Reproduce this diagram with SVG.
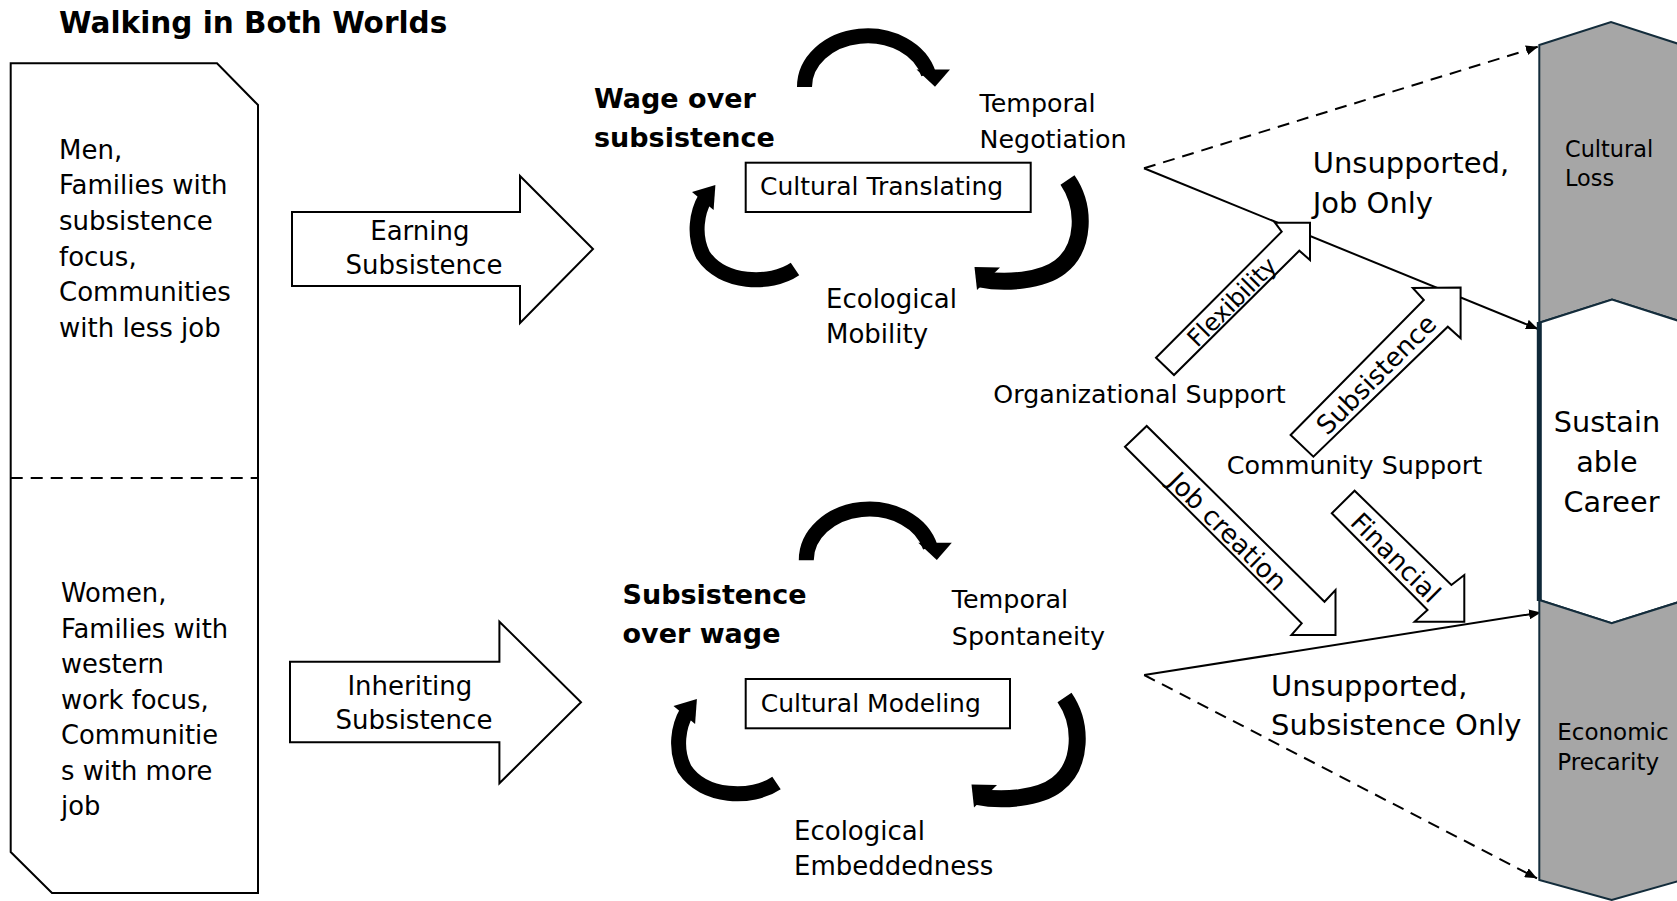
<svg xmlns="http://www.w3.org/2000/svg" width="1677" height="901" viewBox="0 0 1677 901">
  <defs>
    <style>
      .t{font-family:"DejaVu Sans","Liberation Sans",sans-serif;fill:#000;}
      .b{font-weight:bold;}
      .ln{fill:none;stroke:#000;stroke-width:2;}
      .dash{stroke-dasharray:12 8;}
      .blk{fill:#fff;stroke:#000;stroke-width:2;stroke-linejoin:miter;}
      .band{fill:none;stroke:#000;stroke-linecap:butt;}
      .head{fill:#000;}
      .chev{stroke:#132c3b;stroke-width:2;stroke-linejoin:miter;}
      .box{fill:#fff;stroke:#000;stroke-width:2;}
    </style>
    <marker id="ah" viewBox="0 0 12 10" refX="12" refY="5" markerWidth="12" markerHeight="10" markerUnits="userSpaceOnUse" orient="auto">
      <path d="M0,0 L12,5 L0,10 z" fill="#000"/>
    </marker>
    <!-- one three-arc cycle, reused for both loops -->
    <g id="arc-top">
      <path class="band" stroke-width="15" d="M804.5,87 A63,51 0 0 1 928.5,74"/>
      <polygon class="head" points="916.5,69.5 950,69.5 935,86.7"/>
    </g>
    <g id="arc-right">
      <path class="band" stroke-width="17" d="M1067.5,180 C1086,207 1085,248 1060,267 C1042,281 1005,284 980,279"/>
      <polygon class="head" points="974.5,267 977,290 1000,267.5"/>
    </g>
    <g id="arc-left">
      <path class="band" stroke-width="15" d="M795,269 C770,286 722,284 703,255 C693,235 697,212 705.3,198"/>
      <polygon class="head" points="692,192 713.6,210 715.4,185"/>
    </g>
  </defs>

  <rect width="1677" height="901" fill="#fff"/>

  <!-- heading -->
  <g id="title">
    <text class="t b" x="59" y="33" font-size="29.5">Walking in Both Worlds</text>
  </g>

  <!-- left profile card, split by a dashed rule -->
  <g id="profile-card">
    <path class="blk" d="M10.7,63.3 H217 L258,105 V893 H52 L10.7,852 Z"/>
    <line class="ln dash" x1="10.7" y1="478" x2="258" y2="478"/>
    <g id="profile-men">
      <text class="t" font-size="26" x="59">
        <tspan x="59" y="158.5">Men,</tspan>
        <tspan x="59" y="194.2">Families with</tspan>
        <tspan x="59" y="229.9">subsistence</tspan>
        <tspan x="59" y="265.6">focus,</tspan>
        <tspan x="59" y="301.3">Communities</tspan>
        <tspan x="59" y="337">with less job</tspan>
      </text>
    </g>
    <g id="profile-women">
      <text class="t" font-size="25.8" x="61">
        <tspan x="61" y="602">Women,</tspan>
        <tspan x="61" y="637.5">Families with</tspan>
        <tspan x="61" y="673">western</tspan>
        <tspan x="61" y="708.5">work focus,</tspan>
        <tspan x="61" y="744">Communitie</tspan>
        <tspan x="61" y="779.5">s with more</tspan>
        <tspan x="61" y="815">job</tspan>
      </text>
    </g>
  </g>

  <!-- pathway arrows -->
  <g id="earning">
    <path class="blk" d="M292,212 H520 V176 L593,249 L520,323 V286 H292 Z"/>
    <text class="t" font-size="26" text-anchor="middle">
      <tspan x="424" y="240">Earning</tspan>
      <tspan x="424" y="274">Subsistence</tspan>
    </text>
  </g>
  <g id="inheriting">
    <path class="blk" d="M290,661.7 H499.4 V621.7 L581,702.3 L499.4,783.3 V742.3 H290 Z"/>
    <text class="t" font-size="26" text-anchor="middle">
      <tspan x="414" y="695">Inheriting</tspan>
      <tspan x="414" y="729">Subsistence</tspan>
    </text>
  </g>

  <!-- upper cycle -->
  <g id="cycle-wage">
    <use href="#arc-top"/>
    <use href="#arc-right"/>
    <use href="#arc-left"/>
    <text class="t b" font-size="27">
      <tspan x="594" y="108">Wage over</tspan>
      <tspan x="594" y="147">subsistence</tspan>
    </text>
    <text class="t" font-size="25.3">
      <tspan x="979.6" y="112">Temporal</tspan>
      <tspan x="979.6" y="148">Negotiation</tspan>
    </text>
    <rect class="box" x="745.7" y="162.7" width="285" height="49.3"/>
    <text class="t" font-size="25" x="760" y="195">Cultural Translating</text>
    <text class="t" font-size="26">
      <tspan x="826" y="308">Ecological</tspan>
      <tspan x="826" y="343">Mobility</tspan>
    </text>
  </g>

  <!-- lower cycle -->
  <g id="cycle-subsistence">
    <use href="#arc-top" transform="translate(1.8,473.3)"/>
    <use href="#arc-right" transform="translate(-3,517.5)"/>
    <use href="#arc-left" transform="translate(-18.5,514)"/>
    <text class="t b" font-size="27">
      <tspan x="622.5" y="604">Subsistence</tspan>
      <tspan x="622.5" y="643.3">over wage</tspan>
    </text>
    <text class="t" font-size="25.4">
      <tspan x="951.8" y="608.3">Temporal</tspan>
      <tspan x="951.8" y="645">Spontaneity</tspan>
    </text>
    <rect class="box" x="745.7" y="679" width="264.3" height="49.3"/>
    <text class="t" font-size="25" x="760.7" y="711.7">Cultural Modeling</text>
    <text class="t" font-size="26">
      <tspan x="794" y="840">Ecological</tspan>
      <tspan x="794" y="875">Embeddedness</tspan>
    </text>
  </g>

  <!-- outcome paths -->
  <g id="connectors">
    <path class="ln dash" d="M1144,168.3 L1538,46.7" marker-end="url(#ah)"/>
    <path class="ln" d="M1144,168.3 L1538,329" marker-end="url(#ah)"/>
    <path class="ln" d="M1144.2,675 L1541,612.5" marker-end="url(#ah)"/>
    <path class="ln dash" d="M1144.2,675 L1537,878.3" marker-end="url(#ah)"/>
  </g>

  <!-- support sources and their arrows -->
  <g id="org-support">
    <text class="t" font-size="25.3" x="993.3" y="402.7">Organizational Support</text>
  </g>
  <g id="community-support">
    <text class="t" font-size="25.4" x="1226.7" y="473.5">Community Support</text>
  </g>
  <g id="flexibility">
    <polygon class="blk" points="1156,357.7 1281.7,231.7 1275,222.7 1310,222.7 1310,260 1299.3,250.7 1174,375"/>
    <text class="t" font-size="24" text-anchor="middle" transform="translate(1231.7,301.7) rotate(-45)" y="8.7">Flexibility</text>
  </g>
  <g id="subsistence-support">
    <polygon class="blk" points="1290.6,435 1423.8,300 1412.8,288 1460.6,287.5 1460.6,338.3 1447.8,326.7 1313.4,456.7"/>
    <text class="t" font-size="26" text-anchor="middle" transform="translate(1376,374.2) rotate(-45)" y="9.5">Subsistence</text>
  </g>
  <g id="job-creation">
    <polygon class="blk" points="1125,446.7 1301.7,623.3 1291.4,635 1335.5,635 1335.5,590 1324.5,601.7 1146.7,426"/>
    <text class="t" font-size="26" text-anchor="middle" transform="translate(1228,531) rotate(45)" y="9.5">Job creation</text>
  </g>
  <g id="financial">
    <polygon class="blk" points="1331.8,513.3 1427.5,610 1414.6,621.7 1464.3,621.7 1464.3,575 1451.4,585 1354.6,490.7"/>
    <text class="t" font-size="26" text-anchor="middle" transform="translate(1396,557.3) rotate(45)" y="9.5">Financial</text>
  </g>

  <g id="unsupported-job">
    <text class="t" font-size="29">
      <tspan x="1312.7" y="173.3">Unsupported,</tspan>
      <tspan x="1312.7" y="213.3">Job Only</tspan>
    </text>
  </g>
  <g id="unsupported-subsistence">
    <text class="t" font-size="29">
      <tspan x="1271" y="696">Unsupported,</tspan>
      <tspan x="1271" y="735">Subsistence Only</tspan>
    </text>
  </g>

  <!-- outcome column -->
  <g id="cultural-loss">
    <polygon class="chev" fill="#a6a6a6" points="1539.3,45 1611,22 1682,45 1682,322 1612,299.5 1539.3,322.7"/>
    <text class="t" font-size="22.4">
      <tspan x="1565" y="156.7">Cultural</tspan>
      <tspan x="1565" y="186">Loss</tspan>
    </text>
  </g>
  <g id="sustainable-career">
    <polygon class="chev" fill="#fff" points="1539.3,322.7 1612,299.5 1682,322 1682,601 1611.7,623.3 1539.3,600"/>
    <line x1="1539.3" y1="322" x2="1539.3" y2="601" stroke="#0f2838" stroke-width="5"/>
    <text class="t" font-size="28.7" text-anchor="middle">
      <tspan x="1611.5" y="431.7">Sustain</tspan>
      <tspan x="1611.5" y="471.7">able</tspan>
      <tspan x="1611.5" y="511.7">Career</tspan>
    </text>
  </g>
  <g id="economic-precarity">
    <polygon class="chev" fill="#a6a6a6" points="1539.3,600 1611.7,623.3 1682,601 1682,880 1611.7,900 1539.3,880"/>
    <text class="t" font-size="23">
      <tspan x="1557.3" y="740">Economic</tspan>
      <tspan x="1557.3" y="770">Precarity</tspan>
    </text>
  </g>
</svg>
